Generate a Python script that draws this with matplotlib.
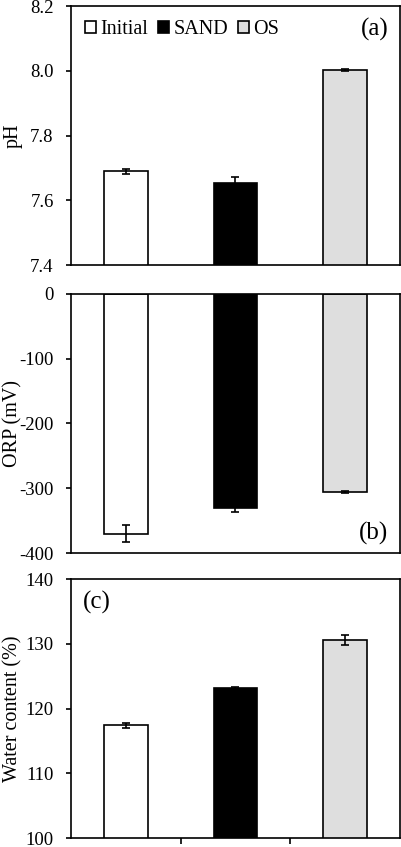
import numpy as np
import matplotlib.pyplot as plt

plt.rcParams['font.family'] = ['Liberation Serif', 'DejaVu Serif']
plt.rcParams['font.size'] = 13.5
plt.rcParams['axes.unicode_minus'] = False

groups = ['Initial', 'SAND', 'OS']
colors = ['white', 'black', '#dedede']

ph = [7.69, 7.652, 8.003]
ph_err = [0.008, 0.02, 0.003]

orp = [-370, -331, -306]
orp_err = [13, 5, 1.5]

water = [117.4, 123.1, 130.6]
water_err = [0.4, 0.15, 0.75]

fig = plt.figure(figsize=(4.02, 8.47), dpi=100)

left, width, height = 0.1766, 0.8184, 0.3058
ax_a = fig.add_axes([left, 0.6871, width, height])
ax_b = fig.add_axes([left, 0.3471, width, height])
ax_c = fig.add_axes([left, 0.0106, width, height])

x = np.arange(len(groups))


def draw(ax, vals, errs, label):
    for i in range(len(groups)):
        ax.bar(x[i], vals[i], width=0.4, color=colors[i], edgecolor='black',
               linewidth=1.2, label=groups[i], zorder=2)
        ax.errorbar(x[i], vals[i], yerr=errs[i], fmt='none', ecolor='black',
                    elinewidth=1.2, capsize=3, capthick=1.2, zorder=3)
    ax.set_xlim(-0.5, 2.5)
    for s in ax.spines.values():
        s.set_linewidth(1.2)
    ax.tick_params(axis='y', direction='out', length=3.5, width=1.2, pad=9,
                   labelsize=13.5)
    ax.set_ylabel(label, fontsize=14.5)
    # same label position on all three panels
    ax.yaxis.set_label_coords(-0.147, 0.5)


# (a) pH
draw(ax_a, ph, ph_err, 'pH')
ax_a.set_ylim(7.4, 8.2)
ax_a.set_yticks([7.4, 7.6, 7.8, 8.0, 8.2])
ax_a.set_yticklabels(['7.4', '7.6', '7.8', '8.0', '8.2'])
ax_a.set_xticks([])
ax_a.text(0.965, 0.955, '(a)', transform=ax_a.transAxes, ha='right', va='top', fontsize=18)
ax_a.legend(loc='upper left', ncol=3, frameon=False, handlelength=0.55, handleheight=0.55,
            handletextpad=0.2, columnspacing=0.5, borderaxespad=0.3, fontsize=14.5,
            bbox_to_anchor=(0.0, 1.0))

# (b) ORP
draw(ax_b, orp, orp_err, 'ORP (mV)')
ax_b.set_ylim(-400, 0)
ax_b.set_yticks([-400, -300, -200, -100, 0])
ax_b.set_xticks([])
ax_b.text(0.965, 0.03, '(b)', transform=ax_b.transAxes, ha='right', va='bottom', fontsize=18)

# (c) water content
draw(ax_c, water, water_err, 'Water content (%)')
ax_c.set_ylim(100, 140)
ax_c.set_yticks([100, 110, 120, 130, 140])
ax_c.set_xticks([0.5, 1.5])
ax_c.set_xticklabels([])
ax_c.tick_params(axis='x', direction='out', length=4, width=1.2)
ax_c.text(0.035, 0.955, '(c)', transform=ax_c.transAxes, ha='left', va='top', fontsize=18)

fig.savefig('out.png', dpi=100)
